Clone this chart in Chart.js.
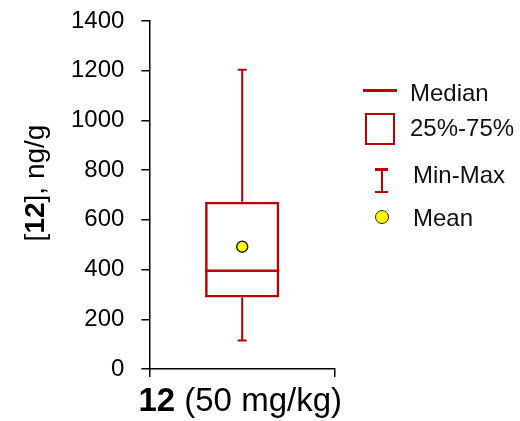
<!DOCTYPE html>
<html>
<head>
<meta charset="utf-8">
<script src="https://cdn.jsdelivr.net/npm/chart.js@4/dist/chart.umd.min.js"></script>
<style>
  body { margin: 0; background: #fff; font-family: "Liberation Sans", Arial, sans-serif; }
  #wrap { position: relative; width: 520px; height: 421px; }
  #legend { position: absolute; left: 0; top: 0; }
  .sym { position: absolute; }
  .lbl { position: absolute; font-size: 24px; line-height: 24px; color: #111; white-space: nowrap; }
</style>
</head>
<body>
<div id="wrap">
  <canvas id="boxChart" width="520" height="421"></canvas>
  <div id="legend"></div>
</div>
<script>
// data
var categories = ['12 (50 mg/kg)'];
var minValues = [115];
var q1Values = [288];
var medianValues = [395];
var q3Values = [673];
var maxValues = [1204];
var meanValues = [492];
var yTicks = [0, 200, 400, 600, 800, 1000, 1200, 1400];

var red = '#c00000';
var fontName = '"Liberation Sans", Arial, sans-serif';

// draw text made of plain/bold pieces, centred on 0,0
function richText(ctx, parts, size) {
    var total = 0;
    parts.forEach(p => {
        ctx.font = (p.bold ? 'bold ' : '') + size + 'px ' + fontName;
        p.w = ctx.measureText(p.text).width;
        total += p.w;
    });
    var x = -total / 2;
    ctx.textBaseline = 'middle';
    ctx.textAlign = 'left';
    ctx.fillStyle = '#000';
    parts.forEach(p => {
        ctx.font = (p.bold ? 'bold ' : '') + size + 'px ' + fontName;
        ctx.fillText(p.text, x, 0);
        x += p.w;
    });
}

// whiskers + median line, drawn off the box positions
var boxParts = {
    id: 'boxParts',
    beforeDatasetsDraw(chart) {
        var ctx = chart.ctx;
        var y = chart.scales.y;
        var bars = chart.getDatasetMeta(0).data;
        ctx.save();
        ctx.strokeStyle = red;
        bars.forEach((bar, i) => {
            var cx = bar.x;
            var half = bar.width / 2;
            var capHalf = 4.5;
            ctx.lineWidth = 2;
            ctx.beginPath();
            ctx.moveTo(cx, y.getPixelForValue(q3Values[i]));
            ctx.lineTo(cx, y.getPixelForValue(maxValues[i]));
            ctx.moveTo(cx - capHalf, y.getPixelForValue(maxValues[i]));
            ctx.lineTo(cx + capHalf, y.getPixelForValue(maxValues[i]));
            ctx.moveTo(cx, y.getPixelForValue(q1Values[i]));
            ctx.lineTo(cx, y.getPixelForValue(minValues[i]));
            ctx.moveTo(cx - capHalf, y.getPixelForValue(minValues[i]));
            ctx.lineTo(cx + capHalf, y.getPixelForValue(minValues[i]));
            ctx.stroke();
            ctx.lineWidth = 2.5;
            ctx.beginPath();
            ctx.moveTo(cx - half, y.getPixelForValue(medianValues[i]));
            ctx.lineTo(cx + half, y.getPixelForValue(medianValues[i]));
            ctx.stroke();
        });
        ctx.restore();
    }
};

// axis titles with the bold compound number
var axisTitles = {
    id: 'axisTitles',
    afterDraw(chart) {
        var ctx = chart.ctx;
        var area = chart.chartArea;
        ctx.save();
        ctx.translate((area.left + area.right) / 2 - 2, 402);
        richText(ctx, [{ text: '12', bold: true }, { text: ' (50 mg/kg)' }], 33);
        ctx.restore();

        ctx.save();
        ctx.translate(36, 183);
        ctx.rotate(-Math.PI / 2);
        richText(ctx, [{ text: '[' }, { text: '12', bold: true }, { text: '], ng/g' }], 28);
        ctx.restore();
    }
};

var ctx = document.getElementById('boxChart').getContext('2d');
var boxChart = new Chart(ctx, {
    type: 'bar',
    data: {
        labels: categories,
        datasets: [{
            label: '25%-75%',
            data: categories.map((c, i) => [q1Values[i], q3Values[i]]),
            backgroundColor: 'rgba(255,255,255,0)',
            borderColor: red,
            borderWidth: 2.5,
            borderSkipped: false,
            barPercentage: 0.4,
            categoryPercentage: 1
        }, {
            type: 'line',
            label: 'Mean',
            data: meanValues,
            showLine: false,
            pointRadius: 5.5,
            pointHoverRadius: 5.5,
            pointBackgroundColor: '#ffff00',
            pointBorderColor: '#222',
            pointBorderWidth: 1.5
        }]
    },
    options: {
        responsive: false,
        animation: false,
        layout: { padding: { left: 54, right: 185, top: 21, bottom: 44 } },
        plugins: {
            legend: { display: false },
            tooltip: { enabled: false }
        },
        scales: {
            x: {
                offset: true,
                grid: { offset: true, drawOnChartArea: false, tickLength: 8, color: '#000', lineWidth: 1.5 },
                border: { color: '#000', width: 1.5 },
                ticks: { display: false }
            },
            y: {
                min: 0,
                max: 1400,
                afterBuildTicks: axis => { axis.ticks = yTicks.map(v => ({ value: v })); },
                // top label may run past the axis end, the layout padding covers it
                afterFit: axis => { axis.paddingTop = 0; },
                grid: { drawOnChartArea: false, tickLength: 8, color: '#000', lineWidth: 1.5 },
                border: { color: '#000', width: 1.5 },
                ticks: {
                    color: '#000',
                    padding: 17,
                    font: { family: fontName, size: 24 },
                    callback: v => String(v)
                }
            }
        }
    },
    plugins: [boxParts, axisTitles]
});

// legend: symbol box + text, one entry per mark type
var legendItems = [
    { text: 'Median', tx: 410, ty: 81,
      sym: '<div class="sym" style="left:363px;top:89px;width:34px;height:3px;background:' + red + '"></div>' },
    { text: '25%-75%', tx: 410, ty: 116,
      sym: '<div class="sym" style="left:365px;top:113px;width:26px;height:28px;border:2.5px solid ' + red + '"></div>' },
    { text: 'Min-Max', tx: 413, ty: 163,
      sym: '<div class="sym" style="left:375px;top:168px;width:13px;height:2.5px;background:' + red + '"></div>' +
           '<div class="sym" style="left:380.5px;top:168px;width:2.5px;height:25px;background:' + red + '"></div>' +
           '<div class="sym" style="left:375px;top:190.5px;width:13px;height:2.5px;background:' + red + '"></div>' },
    { text: 'Mean', tx: 413, ty: 206,
      sym: '<div class="sym" style="left:375px;top:210px;width:12px;height:12px;border-radius:50%;background:#ffff00;border:1.5px solid #222"></div>' }
];
var legendBox = document.getElementById('legend');
legendItems.forEach(item => {
    legendBox.insertAdjacentHTML('beforeend', item.sym +
        '<div class="lbl" style="left:' + item.tx + 'px;top:' + item.ty + 'px">' + item.text + '</div>');
});
</script>
</body>
</html>
